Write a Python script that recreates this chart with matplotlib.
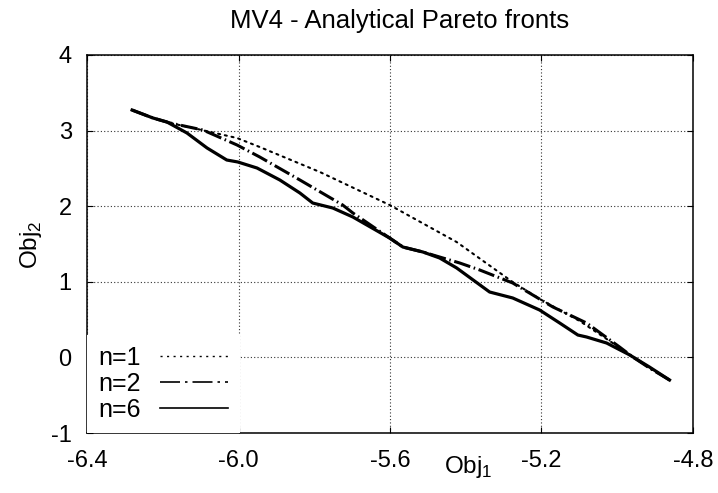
import matplotlib
matplotlib.use("Agg")
import matplotlib.pyplot as plt
from matplotlib.lines import Line2D

plt.rcParams['font.family'] = ['Liberation Sans', 'DejaVu Sans']
plt.rcParams['mathtext.fontset'] = 'custom'
plt.rcParams['mathtext.rm'] = 'Liberation Sans'

# ---- data ----
n1_x = [-6.281, -6.226, -6.181, -6.120, -6.004, -5.944, -5.785, -5.601, -5.424,
        -5.276, -5.200, -5.099, -5.012, -4.959, -4.915, -4.862]
n1_y = [3.272, 3.167, 3.101, 3.034, 2.902, 2.783, 2.452, 2.016, 1.526,
        0.997, 0.759, 0.481, 0.190, 0.005, -0.140, -0.299]

n2_x = [-6.281, -6.226, -6.181, -6.094, -6.004, -5.944, -5.838, -5.725, -5.698,
        -5.601, -5.566, -5.513, -5.469, -5.416, -5.363, -5.276, -5.170, -5.081,
        -4.994, -4.959, -4.915, -4.862]
n2_y = [3.272, 3.167, 3.101, 3.008, 2.810, 2.651, 2.347, 2.016, 1.910,
        1.579, 1.460, 1.394, 1.328, 1.249, 1.156, 0.984, 0.667, 0.455,
        0.138, 0.005, -0.140, -0.299]

n6_x = [-6.281, -6.226, -6.189, -6.136, -6.083, -6.031, -6.002, -5.951, -5.891,
        -5.838, -5.804, -5.751, -5.698, -5.601, -5.566, -5.513, -5.469, -5.424,
        -5.337, -5.276, -5.205, -5.152, -5.104, -5.081, -5.028, -4.967, -4.915,
        -4.862]
n6_y = [3.272, 3.167, 3.114, 2.968, 2.770, 2.611, 2.585, 2.505, 2.347,
        2.175, 2.042, 1.976, 1.857, 1.579, 1.460, 1.394, 1.315, 1.183,
        0.865, 0.786, 0.627, 0.455, 0.296, 0.270, 0.190, 0.032, -0.127,
        -0.299]

series_labels = ['n=1', 'n=2', 'n=6']
x_ticks = [-6.4, -6.0, -5.6, -5.2, -4.8]
x_tick_labels = ['-6.4', '-6.0', '-5.6', '-5.2', '-4.8']
y_ticks = [-1, 0, 1, 2, 3, 4]
y_tick_labels = ['-1', '0', '1', '2', '3', '4']
title = 'MV4 - Analytical Pareto fronts'

# ---- figure ----
fig = plt.figure(figsize=(7.18, 4.93), dpi=100)
ax = fig.add_axes([87 / 718, 60 / 493, (693 - 87) / 718, (433 - 55) / 493])

ax.plot(n1_x, n1_y, color='black', lw=1.5, linestyle=(0, (1, 2.3)),
        solid_capstyle='round', dash_capstyle='round')
ax.plot(n2_x, n2_y, color='black', lw=2.2, linestyle=(0, (5.5, 1.2, 0.5, 1.2)))
ax.plot(n6_x, n6_y, color='black', lw=2.3, solid_joinstyle='round')

ax.set_xlim(-6.4, -4.8)
ax.set_ylim(-1, 4)
ax.set_xticks(x_ticks)
ax.set_xticklabels(x_tick_labels)
ax.set_yticks(y_ticks)
ax.set_yticklabels(y_tick_labels)
ax.tick_params(direction='in', top=True, right=True, length=4.5, width=0.8,
               labelsize=17, colors='black')
ax.tick_params(axis='x', pad=12)
ax.tick_params(axis='y', pad=11)
ax.grid(True, color='#333333', linestyle=(0, (1, 2)), lw=0.8)
for sp in ax.spines.values():
    sp.set_linewidth(1.1)

handles = [
    Line2D([], [], color='black', lw=1.0, linestyle=(0, (1.5, 3.2))),
    Line2D([], [], color='black', lw=1.2, linestyle=(0, (12, 3, 1.5, 3))),
    Line2D([], [], color='black', lw=1.2),
]
leg = ax.legend(handles, series_labels, loc='lower left', fontsize=18,
                markerfirst=False, frameon=True, fancybox=False,
                handlelength=2.75, handletextpad=0.75, labelspacing=0.08,
                borderaxespad=0.0, borderpad=0.45)
leg.get_frame().set_facecolor('white')
leg.get_frame().set_edgecolor('none')
leg.get_frame().set_alpha(1.0)

fig.text(400 / 718, 1 - 21 / 493, title, ha='center', va='center', fontsize=18.5)
fig.text(468 / 718, 1 - 467 / 493, r'Obj$_\mathregular{1}$', ha='center',
         va='center', fontsize=17.5)
fig.text(31 / 718, 1 - 245 / 493, r'Obj$_\mathregular{2}$', ha='center',
         va='center', fontsize=17.5, rotation=90)

fig.savefig('out.png', dpi=100)
